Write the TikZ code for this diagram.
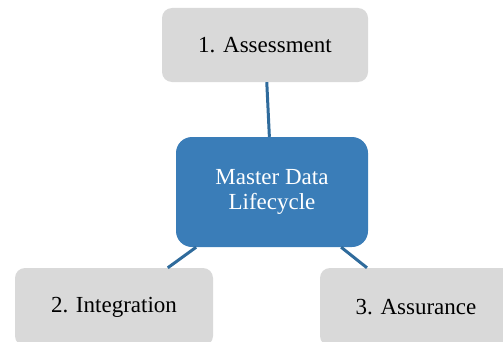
\documentclass[tikz,border=0pt]{standalone}
\usepackage{fontspec}
\setmainfont{Liberation Serif}
\definecolor{stepgrey}{HTML}{D9D9D9}
\definecolor{coreblue}{HTML}{3A7DB8}
\definecolor{linkblue}{HTML}{2F6B9C}
\tikzset{
  phase/.style={fill=stepgrey, rounded corners=10pt, inner sep=0pt, font=\fontsize{23}{26}\selectfont},
  core/.style={fill=coreblue, rounded corners=16pt, inner sep=0pt, text=white, align=center, font=\fontsize{23}{25}\selectfont},
  link/.style={draw=linkblue, line width=3pt}
}
\begin{document}
\begin{tikzpicture}[x=1pt, y=1pt]
			% frame
			\useasboundingbox (0, 0) rectangle (503, 341);
			% boxes
			\node[phase, minimum width=206pt, minimum height=74pt] (assessment) at (265, 296) {1. Assessment};
			\node[core, minimum width=192pt, minimum height=110pt] (lifecycle) at (272, 149) {Master Data\\Lifecycle};
			\node[phase, minimum width=198pt, minimum height=78pt] (integration) at (114, 34) {2. Integration};
			\node[phase, minimum width=192pt, minimum height=78pt] (assurance) at (416, 34) {3. Assurance};

			% links
			\draw[link] (assessment) -- (lifecycle);
			\draw[link] (lifecycle) -- (integration);
			\draw[link] (lifecycle) -- (assurance);
		\end{tikzpicture}
\end{document}
